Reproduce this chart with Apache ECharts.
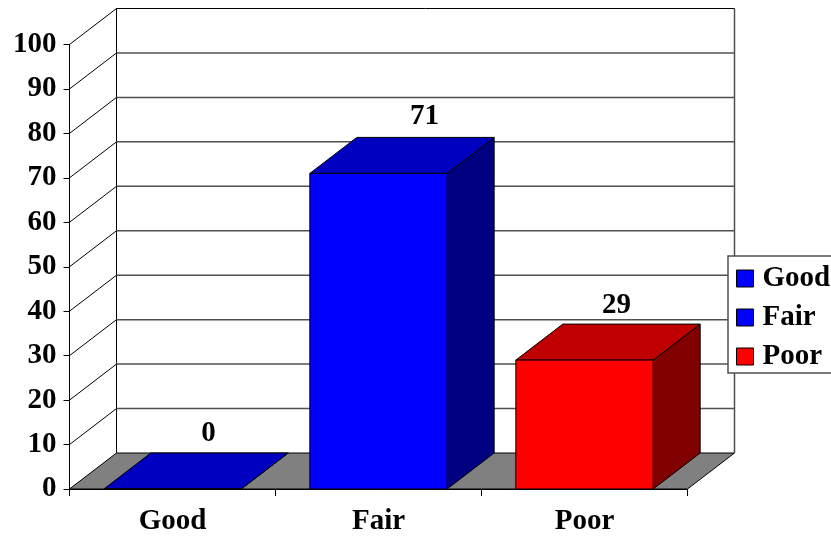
<!DOCTYPE html>
<html>
<head>
<meta charset="utf-8">
<style>html,body{margin:0;padding:0;background:#fff}#chart{width:831px;height:536px}</style>
<script src="https://cdn.jsdelivr.net/npm/echarts@6/dist/echarts.min.js"></script>
</head>
<body>
<div id="chart"></div>
<script>
const categories = ['Good', 'Fair', 'Poor'];
const values = [0, 71, 29];
const frontColors = ['#0000ff', '#0000ff', '#ff0000'];
const topColors = ['#0000c0', '#0000c0', '#c00000'];
const sideColors = ['#000080', '#000080', '#800000'];
const yTicks = [0, 10, 20, 30, 40, 50, 60, 70, 80, 90, 100];
// the value labels do not sit evenly over the bars in the original
const labelShiftX = [-11, -1, -15];
const labelShiftY = [-19, -21, -19];

// pseudo 3d depth, in pixels
const DX = 47;
const DY = 36;
const FONT = '"Liberation Serif", "Times New Roman", serif';

const chart = echarts.init(document.getElementById('chart'), null, { renderer: 'canvas' });

// floor, back wall and side wall, one data item per tick
const renderWalls = (params, api) => {
    const cs = params.coordSys;
    const v = api.value(0);
    const y = api.coord([0, v])[1];
    const left = cs.x;
    const right = cs.x + cs.width;
    const children = [];

    if (v === 0) {
        children.push({
            type: 'polygon',
            shape: { points: [[left, y], [left + DX, y - DY], [right + DX, y - DY], [right, y]] },
            style: { fill: '#808080', stroke: '#000', lineWidth: 1 }
        });
        const top = api.coord([0, 100])[1];
        children.push({
            type: 'line',
            shape: { x1: left + DX, y1: y - DY, x2: left + DX, y2: top - DY },
            style: { stroke: '#000', lineWidth: 1 }
        });
        children.push({
            type: 'line',
            shape: { x1: right + DX, y1: y - DY, x2: right + DX, y2: top - DY },
            style: { stroke: '#505050', lineWidth: 1.5 }
        });
    } else {
        children.push({
            type: 'line',
            shape: { x1: left, y1: y, x2: left + DX, y2: y - DY },
            style: { stroke: '#000', lineWidth: 1 }
        });
        children.push({
            type: 'line',
            shape: { x1: left + DX, y1: y - DY, x2: right + DX, y2: y - DY },
            style: v === 100 ? { stroke: '#000', lineWidth: 1 } : { stroke: '#505050', lineWidth: 1.5 }
        });
    }
    return { type: 'group', children };
};

const renderBar = (idx) => (params, api) => {
    const base = api.coord([idx, 0]);
    const head = api.coord([idx, api.value(1)]);
    const w = api.size([1, 0])[0] * 2 / 3;
    const x0 = base[0] - w / 2;
    const x1 = base[0] + w / 2;
    const edge = { stroke: '#000', lineWidth: 1 };
    return {
        type: 'group',
        children: [
            {
                type: 'polygon',
                shape: { points: [[x1, head[1]], [x1 + DX, head[1] - DY], [x1 + DX, base[1] - DY], [x1, base[1]]] },
                style: { fill: sideColors[idx], ...edge }
            },
            {
                type: 'polygon',
                shape: { points: [[x0, head[1]], [x0 + DX, head[1] - DY], [x1 + DX, head[1] - DY], [x1, head[1]]] },
                style: { fill: topColors[idx], ...edge }
            },
            {
                type: 'rect',
                shape: { x: x0, y: head[1], width: w, height: base[1] - head[1] },
                style: { fill: frontColors[idx], ...edge }
            },
            {
                type: 'text',
                x: base[0] + DX + labelShiftX[idx],
                y: head[1] - DY + labelShiftY[idx],
                style: {
                    text: String(api.value(1)),
                    font: 'bold 29px ' + FONT,
                    fill: '#000',
                    align: 'center',
                    verticalAlign: 'middle'
                }
            }
        ]
    };
};

const option = {
    animation: false,
    backgroundColor: '#ffffff',
    grid: { left: 69.5, top: 44.5, width: 618, height: 445 },
    legend: {
        data: categories,
        left: 728,
        top: 256,
        orient: 'vertical',
        icon: 'rect',
        itemWidth: 17,
        itemHeight: 17,
        itemGap: 10,
        padding: [8, 12, 2, 8],
        backgroundColor: '#fff',
        borderColor: '#505050',
        borderWidth: 1.5,
        itemStyle: { borderColor: '#000', borderWidth: 1 },
        textStyle: { fontFamily: FONT, fontWeight: 'bold', fontSize: 29, color: '#000', padding: [3, 0, 0, 4] }
    },
    xAxis: {
        type: 'category',
        data: categories,
        axisLine: { lineStyle: { color: '#000', width: 1 } },
        axisTick: { show: true, length: 7, lineStyle: { color: '#000', width: 1 } },
        axisLabel: { margin: 18, fontFamily: FONT, fontWeight: 'bold', fontSize: 29, color: '#000' }
    },
    yAxis: {
        type: 'value',
        min: 0,
        max: 100,
        interval: 10,
        splitLine: { show: false },
        axisLine: { show: true, lineStyle: { color: '#000', width: 1 } },
        axisTick: { show: true, length: 6, lineStyle: { color: '#000', width: 1 } },
        axisLabel: { margin: 13, padding: [5, 0, 0, 0], fontFamily: FONT, fontWeight: 'bold', fontSize: 29, color: '#000' }
    },
    series: [
        {
            type: 'custom',
            name: 'walls',
            z: 1,
            silent: true,
            clip: false,
            renderItem: renderWalls,
            data: yTicks.map((t) => [t])
        },
        ...categories.map((name, i) => ({
            type: 'custom',
            name,
            z: 3,
            clip: false,
            itemStyle: { color: frontColors[i] },
            renderItem: renderBar(i),
            encode: { x: 0, y: 1 },
            data: [[i, values[i]]]
        }))
    ]
};

chart.setOption(option);
</script>
</body>
</html>
